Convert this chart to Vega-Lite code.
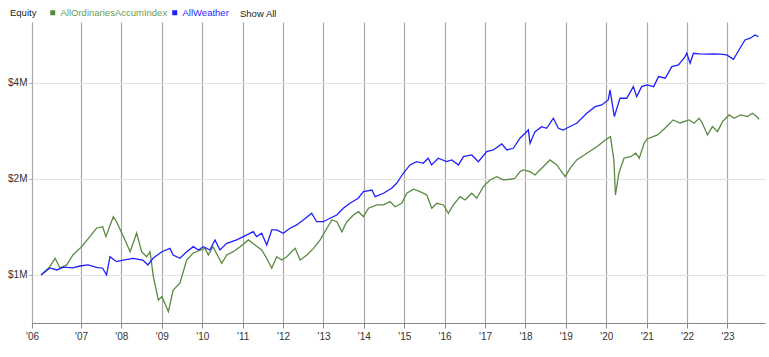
{
  "$schema": "https://vega.github.io/schema/vega-lite/v6.json",
  "width": 733,
  "height": 301,
  "autosize": {"type": "none"},
  "padding": {"left": 32, "top": 22, "right": 4, "bottom": 34},
  "background": "white",
  "config": {"view": {"stroke": null}, "font": "Liberation Sans"},
  "title": {"text": "Show All", "orient": "top", "anchor": "start", "frame": "group", "offset": -6, "dx": 208, "dy": 9, "baseline": "middle", "fontSize": 9.5, "fontWeight": "normal", "color": "#222222", "font": "Liberation Sans"},
  "data": {"values": [
    {"date":"2006-01-05","series":"AllOrdinariesAccumIndex","value":1.000},
    {"date":"2006-03-25","series":"AllOrdinariesAccumIndex","value":1.062},
    {"date":"2006-05-12","series":"AllOrdinariesAccumIndex","value":1.128},
    {"date":"2006-06-25","series":"AllOrdinariesAccumIndex","value":1.052},
    {"date":"2006-08-25","series":"AllOrdinariesAccumIndex","value":1.075},
    {"date":"2006-10-20","series":"AllOrdinariesAccumIndex","value":1.155},
    {"date":"2007-01-07","series":"AllOrdinariesAccumIndex","value":1.227},
    {"date":"2007-03-22","series":"AllOrdinariesAccumIndex","value":1.319},
    {"date":"2007-05-22","series":"AllOrdinariesAccumIndex","value":1.404},
    {"date":"2007-07-16","series":"AllOrdinariesAccumIndex","value":1.417},
    {"date":"2007-08-14","series":"AllOrdinariesAccumIndex","value":1.319},
    {"date":"2007-10-20","series":"AllOrdinariesAccumIndex","value":1.523},
    {"date":"2007-11-18","series":"AllOrdinariesAccumIndex","value":1.469},
    {"date":"2008-01-04","series":"AllOrdinariesAccumIndex","value":1.354},
    {"date":"2008-02-03","series":"AllOrdinariesAccumIndex","value":1.288},
    {"date":"2008-03-20","series":"AllOrdinariesAccumIndex","value":1.183},
    {"date":"2008-05-18","series":"AllOrdinariesAccumIndex","value":1.354},
    {"date":"2008-07-02","series":"AllOrdinariesAccumIndex","value":1.183},
    {"date":"2008-08-17","series":"AllOrdinariesAccumIndex","value":1.141},
    {"date":"2008-09-16","series":"AllOrdinariesAccumIndex","value":1.183},
    {"date":"2008-10-16","series":"AllOrdinariesAccumIndex","value":0.988},
    {"date":"2008-11-30","series":"AllOrdinariesAccumIndex","value":0.835},
    {"date":"2009-01-01","series":"AllOrdinariesAccumIndex","value":0.855},
    {"date":"2009-03-01","series":"AllOrdinariesAccumIndex","value":0.767},
    {"date":"2009-04-13","series":"AllOrdinariesAccumIndex","value":0.897},
    {"date":"2009-06-13","series":"AllOrdinariesAccumIndex","value":0.942},
    {"date":"2009-08-13","series":"AllOrdinariesAccumIndex","value":1.114},
    {"date":"2009-10-12","series":"AllOrdinariesAccumIndex","value":1.172},
    {"date":"2009-11-26","series":"AllOrdinariesAccumIndex","value":1.189},
    {"date":"2010-01-26","series":"AllOrdinariesAccumIndex","value":1.212},
    {"date":"2010-02-25","series":"AllOrdinariesAccumIndex","value":1.155},
    {"date":"2010-04-07","series":"AllOrdinariesAccumIndex","value":1.227},
    {"date":"2010-05-26","series":"AllOrdinariesAccumIndex","value":1.141},
    {"date":"2010-06-26","series":"AllOrdinariesAccumIndex","value":1.088},
    {"date":"2010-08-10","series":"AllOrdinariesAccumIndex","value":1.155},
    {"date":"2010-10-09","series":"AllOrdinariesAccumIndex","value":1.183},
    {"date":"2010-12-09","series":"AllOrdinariesAccumIndex","value":1.227},
    {"date":"2011-02-23","series":"AllOrdinariesAccumIndex","value":1.288},
    {"date":"2011-04-23","series":"AllOrdinariesAccumIndex","value":1.242},
    {"date":"2011-06-22","series":"AllOrdinariesAccumIndex","value":1.198},
    {"date":"2011-08-07","series":"AllOrdinariesAccumIndex","value":1.128},
    {"date":"2011-09-21","series":"AllOrdinariesAccumIndex","value":1.050},
    {"date":"2011-11-05","series":"AllOrdinariesAccumIndex","value":1.141},
    {"date":"2011-12-20","series":"AllOrdinariesAccumIndex","value":1.114},
    {"date":"2012-02-04","series":"AllOrdinariesAccumIndex","value":1.141},
    {"date":"2012-04-20","series":"AllOrdinariesAccumIndex","value":1.212},
    {"date":"2012-06-04","series":"AllOrdinariesAccumIndex","value":1.114},
    {"date":"2012-08-04","series":"AllOrdinariesAccumIndex","value":1.155},
    {"date":"2012-10-03","series":"AllOrdinariesAccumIndex","value":1.212},
    {"date":"2012-12-02","series":"AllOrdinariesAccumIndex","value":1.288},
    {"date":"2013-02-01","series":"AllOrdinariesAccumIndex","value":1.401},
    {"date":"2013-03-18","series":"AllOrdinariesAccumIndex","value":1.488},
    {"date":"2013-05-02","series":"AllOrdinariesAccumIndex","value":1.469},
    {"date":"2013-06-16","series":"AllOrdinariesAccumIndex","value":1.367},
    {"date":"2013-07-31","series":"AllOrdinariesAccumIndex","value":1.469},
    {"date":"2013-09-29","series":"AllOrdinariesAccumIndex","value":1.542},
    {"date":"2013-11-13","series":"AllOrdinariesAccumIndex","value":1.579},
    {"date":"2013-12-28","series":"AllOrdinariesAccumIndex","value":1.523},
    {"date":"2014-02-12","series":"AllOrdinariesAccumIndex","value":1.619},
    {"date":"2014-04-28","series":"AllOrdinariesAccumIndex","value":1.658},
    {"date":"2014-06-27","series":"AllOrdinariesAccumIndex","value":1.658},
    {"date":"2014-08-26","series":"AllOrdinariesAccumIndex","value":1.698},
    {"date":"2014-10-10","series":"AllOrdinariesAccumIndex","value":1.637},
    {"date":"2014-12-09","series":"AllOrdinariesAccumIndex","value":1.678},
    {"date":"2015-01-24","series":"AllOrdinariesAccumIndex","value":1.804},
    {"date":"2015-03-25","series":"AllOrdinariesAccumIndex","value":1.857},
    {"date":"2015-05-24","series":"AllOrdinariesAccumIndex","value":1.825},
    {"date":"2015-07-24","series":"AllOrdinariesAccumIndex","value":1.782},
    {"date":"2015-09-07","series":"AllOrdinariesAccumIndex","value":1.619},
    {"date":"2015-10-22","series":"AllOrdinariesAccumIndex","value":1.678},
    {"date":"2015-12-21","series":"AllOrdinariesAccumIndex","value":1.658},
    {"date":"2016-02-04","series":"AllOrdinariesAccumIndex","value":1.561},
    {"date":"2016-03-20","series":"AllOrdinariesAccumIndex","value":1.658},
    {"date":"2016-05-20","series":"AllOrdinariesAccumIndex","value":1.760},
    {"date":"2016-07-04","series":"AllOrdinariesAccumIndex","value":1.719},
    {"date":"2016-09-02","series":"AllOrdinariesAccumIndex","value":1.804},
    {"date":"2016-10-17","series":"AllOrdinariesAccumIndex","value":1.740},
    {"date":"2016-12-16","series":"AllOrdinariesAccumIndex","value":1.892},
    {"date":"2017-02-14","series":"AllOrdinariesAccumIndex","value":1.986},
    {"date":"2017-04-16","series":"AllOrdinariesAccumIndex","value":2.034},
    {"date":"2017-06-15","series":"AllOrdinariesAccumIndex","value":1.986},
    {"date":"2017-08-14","series":"AllOrdinariesAccumIndex","value":1.996},
    {"date":"2017-09-28","series":"AllOrdinariesAccumIndex","value":2.010},
    {"date":"2017-11-12","series":"AllOrdinariesAccumIndex","value":2.108},
    {"date":"2017-12-12","series":"AllOrdinariesAccumIndex","value":2.134},
    {"date":"2018-02-11","series":"AllOrdinariesAccumIndex","value":2.108},
    {"date":"2018-03-28","series":"AllOrdinariesAccumIndex","value":2.059},
    {"date":"2018-05-27","series":"AllOrdinariesAccumIndex","value":2.160},
    {"date":"2018-08-11","series":"AllOrdinariesAccumIndex","value":2.294},
    {"date":"2018-10-11","series":"AllOrdinariesAccumIndex","value":2.213},
    {"date":"2018-12-25","series":"AllOrdinariesAccumIndex","value":2.034},
    {"date":"2019-02-08","series":"AllOrdinariesAccumIndex","value":2.160},
    {"date":"2019-04-09","series":"AllOrdinariesAccumIndex","value":2.294},
    {"date":"2019-07-09","series":"AllOrdinariesAccumIndex","value":2.408},
    {"date":"2019-10-08","series":"AllOrdinariesAccumIndex","value":2.525},
    {"date":"2019-12-23","series":"AllOrdinariesAccumIndex","value":2.650},
    {"date":"2020-02-08","series":"AllOrdinariesAccumIndex","value":2.715},
    {"date":"2020-03-10","series":"AllOrdinariesAccumIndex","value":2.294},
    {"date":"2020-03-24","series":"AllOrdinariesAccumIndex","value":1.782},
    {"date":"2020-04-24","series":"AllOrdinariesAccumIndex","value":2.084},
    {"date":"2020-06-09","series":"AllOrdinariesAccumIndex","value":2.323},
    {"date":"2020-08-09","series":"AllOrdinariesAccumIndex","value":2.349},
    {"date":"2020-09-24","series":"AllOrdinariesAccumIndex","value":2.408},
    {"date":"2020-10-25","series":"AllOrdinariesAccumIndex","value":2.323},
    {"date":"2020-12-08","series":"AllOrdinariesAccumIndex","value":2.588},
    {"date":"2021-01-04","series":"AllOrdinariesAccumIndex","value":2.670},
    {"date":"2021-04-09","series":"AllOrdinariesAccumIndex","value":2.748},
    {"date":"2021-06-17","series":"AllOrdinariesAccumIndex","value":2.890},
    {"date":"2021-08-28","series":"AllOrdinariesAccumIndex","value":3.063},
    {"date":"2021-10-29","series":"AllOrdinariesAccumIndex","value":2.996},
    {"date":"2022-01-18","series":"AllOrdinariesAccumIndex","value":3.063},
    {"date":"2022-03-05","series":"AllOrdinariesAccumIndex","value":2.990},
    {"date":"2022-04-19","series":"AllOrdinariesAccumIndex","value":3.100},
    {"date":"2022-05-19","series":"AllOrdinariesAccumIndex","value":2.990},
    {"date":"2022-07-04","series":"AllOrdinariesAccumIndex","value":2.748},
    {"date":"2022-08-18","series":"AllOrdinariesAccumIndex","value":2.918},
    {"date":"2022-10-03","series":"AllOrdinariesAccumIndex","value":2.815},
    {"date":"2022-11-17","series":"AllOrdinariesAccumIndex","value":3.025},
    {"date":"2023-01-16","series":"AllOrdinariesAccumIndex","value":3.175},
    {"date":"2023-03-01","series":"AllOrdinariesAccumIndex","value":3.100},
    {"date":"2023-05-01","series":"AllOrdinariesAccumIndex","value":3.175},
    {"date":"2023-06-30","series":"AllOrdinariesAccumIndex","value":3.136},
    {"date":"2023-08-14","series":"AllOrdinariesAccumIndex","value":3.214},
    {"date":"2023-09-24","series":"AllOrdinariesAccumIndex","value":3.136},
    {"date":"2023-10-13","series":"AllOrdinariesAccumIndex","value":3.078},
    {"date":"2006-01-05","series":"AllWeather","value":1.000},
    {"date":"2006-03-25","series":"AllWeather","value":1.052},
    {"date":"2006-05-28","series":"AllWeather","value":1.037},
    {"date":"2006-07-25","series":"AllWeather","value":1.059},
    {"date":"2006-10-20","series":"AllWeather","value":1.052},
    {"date":"2006-12-23","series":"AllWeather","value":1.067},
    {"date":"2007-03-05","series":"AllWeather","value":1.075},
    {"date":"2007-05-22","series":"AllWeather","value":1.057},
    {"date":"2007-07-16","series":"AllWeather","value":1.050},
    {"date":"2007-08-20","series":"AllWeather","value":1.000},
    {"date":"2007-09-20","series":"AllWeather","value":1.141},
    {"date":"2007-11-18","series":"AllWeather","value":1.101},
    {"date":"2008-01-17","series":"AllWeather","value":1.114},
    {"date":"2008-04-15","series":"AllWeather","value":1.128},
    {"date":"2008-07-13","series":"AllWeather","value":1.114},
    {"date":"2008-08-28","series":"AllWeather","value":1.075},
    {"date":"2008-10-13","series":"AllWeather","value":1.128},
    {"date":"2009-01-01","series":"AllWeather","value":1.183},
    {"date":"2009-03-15","series":"AllWeather","value":1.212},
    {"date":"2009-04-13","series":"AllWeather","value":1.155},
    {"date":"2009-06-13","series":"AllWeather","value":1.128},
    {"date":"2009-08-13","series":"AllWeather","value":1.183},
    {"date":"2009-10-12","series":"AllWeather","value":1.227},
    {"date":"2009-11-26","series":"AllWeather","value":1.198},
    {"date":"2010-01-11","series":"AllWeather","value":1.227},
    {"date":"2010-03-11","series":"AllWeather","value":1.198},
    {"date":"2010-04-26","series":"AllWeather","value":1.288},
    {"date":"2010-06-10","series":"AllWeather","value":1.198},
    {"date":"2010-08-10","series":"AllWeather","value":1.257},
    {"date":"2010-11-08","series":"AllWeather","value":1.288},
    {"date":"2011-01-08","series":"AllWeather","value":1.319},
    {"date":"2011-04-07","series":"AllWeather","value":1.367},
    {"date":"2011-05-07","series":"AllWeather","value":1.319},
    {"date":"2011-06-22","series":"AllWeather","value":1.351},
    {"date":"2011-08-07","series":"AllWeather","value":1.242},
    {"date":"2011-09-21","series":"AllWeather","value":1.384},
    {"date":"2011-11-05","series":"AllWeather","value":1.384},
    {"date":"2012-01-04","series":"AllWeather","value":1.351},
    {"date":"2012-03-04","series":"AllWeather","value":1.401},
    {"date":"2012-05-04","series":"AllWeather","value":1.435},
    {"date":"2012-07-02","series":"AllWeather","value":1.488},
    {"date":"2012-09-16","series":"AllWeather","value":1.561},
    {"date":"2012-10-31","series":"AllWeather","value":1.469},
    {"date":"2012-12-30","series":"AllWeather","value":1.469},
    {"date":"2013-03-01","series":"AllWeather","value":1.506},
    {"date":"2013-05-01","series":"AllWeather","value":1.542},
    {"date":"2013-06-29","series":"AllWeather","value":1.619},
    {"date":"2013-08-28","series":"AllWeather","value":1.678},
    {"date":"2013-11-11","series":"AllWeather","value":1.740},
    {"date":"2013-12-28","series":"AllWeather","value":1.825},
    {"date":"2014-03-15","series":"AllWeather","value":1.847},
    {"date":"2014-04-13","series":"AllWeather","value":1.760},
    {"date":"2014-06-27","series":"AllWeather","value":1.804},
    {"date":"2014-09-09","series":"AllWeather","value":1.870},
    {"date":"2014-10-24","series":"AllWeather","value":1.939},
    {"date":"2014-12-23","series":"AllWeather","value":2.084},
    {"date":"2015-02-22","series":"AllWeather","value":2.213},
    {"date":"2015-04-23","series":"AllWeather","value":2.266},
    {"date":"2015-06-21","series":"AllWeather","value":2.240},
    {"date":"2015-08-06","series":"AllWeather","value":2.323},
    {"date":"2015-09-05","series":"AllWeather","value":2.213},
    {"date":"2015-11-04","series":"AllWeather","value":2.323},
    {"date":"2016-01-19","series":"AllWeather","value":2.266},
    {"date":"2016-03-06","series":"AllWeather","value":2.294},
    {"date":"2016-05-05","series":"AllWeather","value":2.213},
    {"date":"2016-06-19","series":"AllWeather","value":2.349},
    {"date":"2016-09-02","series":"AllWeather","value":2.378},
    {"date":"2016-11-01","series":"AllWeather","value":2.266},
    {"date":"2017-01-15","series":"AllWeather","value":2.435},
    {"date":"2017-03-16","series":"AllWeather","value":2.466},
    {"date":"2017-05-31","series":"AllWeather","value":2.575},
    {"date":"2017-07-16","series":"AllWeather","value":2.466},
    {"date":"2017-09-13","series":"AllWeather","value":2.496},
    {"date":"2017-11-12","series":"AllWeather","value":2.683},
    {"date":"2017-12-28","series":"AllWeather","value":2.782},
    {"date":"2018-01-27","series":"AllWeather","value":2.848},
    {"date":"2018-02-11","series":"AllWeather","value":2.588},
    {"date":"2018-03-28","series":"AllWeather","value":2.815},
    {"date":"2018-05-27","series":"AllWeather","value":2.918},
    {"date":"2018-07-11","series":"AllWeather","value":2.884},
    {"date":"2018-09-10","series":"AllWeather","value":3.100},
    {"date":"2018-10-25","series":"AllWeather","value":2.884},
    {"date":"2018-12-09","series":"AllWeather","value":2.848},
    {"date":"2019-01-24","series":"AllWeather","value":2.905},
    {"date":"2019-04-09","series":"AllWeather","value":2.990},
    {"date":"2019-07-09","series":"AllWeather","value":3.214},
    {"date":"2019-09-22","series":"AllWeather","value":3.371},
    {"date":"2019-11-21","series":"AllWeather","value":3.413},
    {"date":"2020-01-19","series":"AllWeather","value":3.538},
    {"date":"2020-02-04","series":"AllWeather","value":3.803},
    {"date":"2020-03-14","series":"AllWeather","value":3.136},
    {"date":"2020-05-04","series":"AllWeather","value":3.582},
    {"date":"2020-07-04","series":"AllWeather","value":3.582},
    {"date":"2020-09-02","series":"AllWeather","value":3.894},
    {"date":"2020-10-02","series":"AllWeather","value":3.623},
    {"date":"2020-11-16","series":"AllWeather","value":3.894},
    {"date":"2021-01-04","series":"AllWeather","value":3.942},
    {"date":"2021-03-04","series":"AllWeather","value":3.894},
    {"date":"2021-04-18","series":"AllWeather","value":4.187},
    {"date":"2021-06-17","series":"AllWeather","value":4.138},
    {"date":"2021-08-16","series":"AllWeather","value":4.500},
    {"date":"2021-10-15","series":"AllWeather","value":4.555},
    {"date":"2021-12-14","series":"AllWeather","value":4.838},
    {"date":"2021-12-29","series":"AllWeather","value":4.956},
    {"date":"2022-01-28","series":"AllWeather","value":4.611},
    {"date":"2022-02-27","series":"AllWeather","value":4.956},
    {"date":"2022-04-28","series":"AllWeather","value":4.932},
    {"date":"2022-06-27","series":"AllWeather","value":4.922},
    {"date":"2022-08-26","series":"AllWeather","value":4.932},
    {"date":"2022-10-26","series":"AllWeather","value":4.922},
    {"date":"2022-12-25","series":"AllWeather","value":4.897},
    {"date":"2023-02-24","series":"AllWeather","value":4.747},
    {"date":"2023-04-24","series":"AllWeather","value":5.138},
    {"date":"2023-06-08","series":"AllWeather","value":5.456},
    {"date":"2023-07-24","series":"AllWeather","value":5.525},
    {"date":"2023-09-07","series":"AllWeather","value":5.657},
    {"date":"2023-10-07","series":"AllWeather","value":5.588}
  ]},
  "mark": {"type": "line", "strokeWidth": 1.3, "clip": true},
  "encoding": {
    "x": {
      "field": "date", "type": "temporal",
      "scale": {"domain": [{"year": 2005, "month": 10, "date": 15}, {"year": 2023, "month": 12, "date": 6}], "nice": false},
      "axis": {
        "title": null,
        "values": [
          {"year": 2005, "month": 10, "date": 15},
          {"year": 2007, "month": 1, "date": 1}, {"year": 2008, "month": 1, "date": 1},
          {"year": 2009, "month": 1, "date": 1}, {"year": 2010, "month": 1, "date": 1},
          {"year": 2011, "month": 1, "date": 1}, {"year": 2012, "month": 1, "date": 1},
          {"year": 2013, "month": 1, "date": 1}, {"year": 2014, "month": 1, "date": 1},
          {"year": 2015, "month": 1, "date": 1}, {"year": 2016, "month": 1, "date": 1},
          {"year": 2017, "month": 1, "date": 1}, {"year": 2018, "month": 1, "date": 1},
          {"year": 2019, "month": 1, "date": 1}, {"year": 2020, "month": 1, "date": 1},
          {"year": 2021, "month": 1, "date": 1}, {"year": 2022, "month": 1, "date": 1},
          {"year": 2023, "month": 1, "date": 1}
        ],
        "labelExpr": "year(datum.value) < 2006 ? \"'06\" : \"'\" + timeFormat(datum.value, '%y')",
        "grid": true, "gridColor": "#a8a8a8", "gridWidth": 1.2,
        "domain": true, "domainColor": "#8a8a8a",
        "ticks": true, "tickColor": "#8a8a8a", "tickSize": 5,
        "labelFontSize": 10, "labelColor": "#333333", "labelPadding": 3,
        "labelFlush": false, "labelOverlap": false
      }
    },
    "y": {
      "field": "value", "type": "quantitative",
      "scale": {"type": "log", "base": 2, "domain": [0.7071, 6.21], "nice": false},
      "axis": {
        "title": null, "values": [1, 2, 4],
        "labelExpr": "'$' + datum.value + 'M'",
        "grid": true, "gridColor": "#e2e2e2", "gridWidth": 1,
        "domain": false, "ticks": true, "tickColor": "#aaaaaa", "tickSize": 3,
        "labelFontSize": 10, "labelColor": "#333333", "labelPadding": 2
      }
    },
    "color": {
      "field": "series", "type": "nominal",
      "scale": {"domain": ["AllOrdinariesAccumIndex", "AllWeather"], "range": ["#5a8a40", "#1f1fff"]},
      "legend": {
        "title": "Equity", "orient": "none", "direction": "horizontal",
        "legendX": -22, "legendY": -14,
        "titleOrient": "left", "titleFontSize": 9.5, "titleFontWeight": "normal", "titleColor": "#222222",
        "titlePadding": 11, "titleBaseline": "middle",
        "symbolType": "square", "symbolSize": 25, "symbolStrokeWidth": 0,
        "labelFontSize": 9.5, "labelOffset": 3, "columnPadding": 2, "gridAlign": "none",
        "encode": {
          "symbols": {"update": {
            "fill": {"scale": "color", "field": "value"}
          }},
          "labels": {"update": {
            "fill": {"signal": "datum.value === 'AllOrdinariesAccumIndex' ? '#6b9b52' : '#2a2aff'"}
          }}
        }
      }
    }
  }
}
